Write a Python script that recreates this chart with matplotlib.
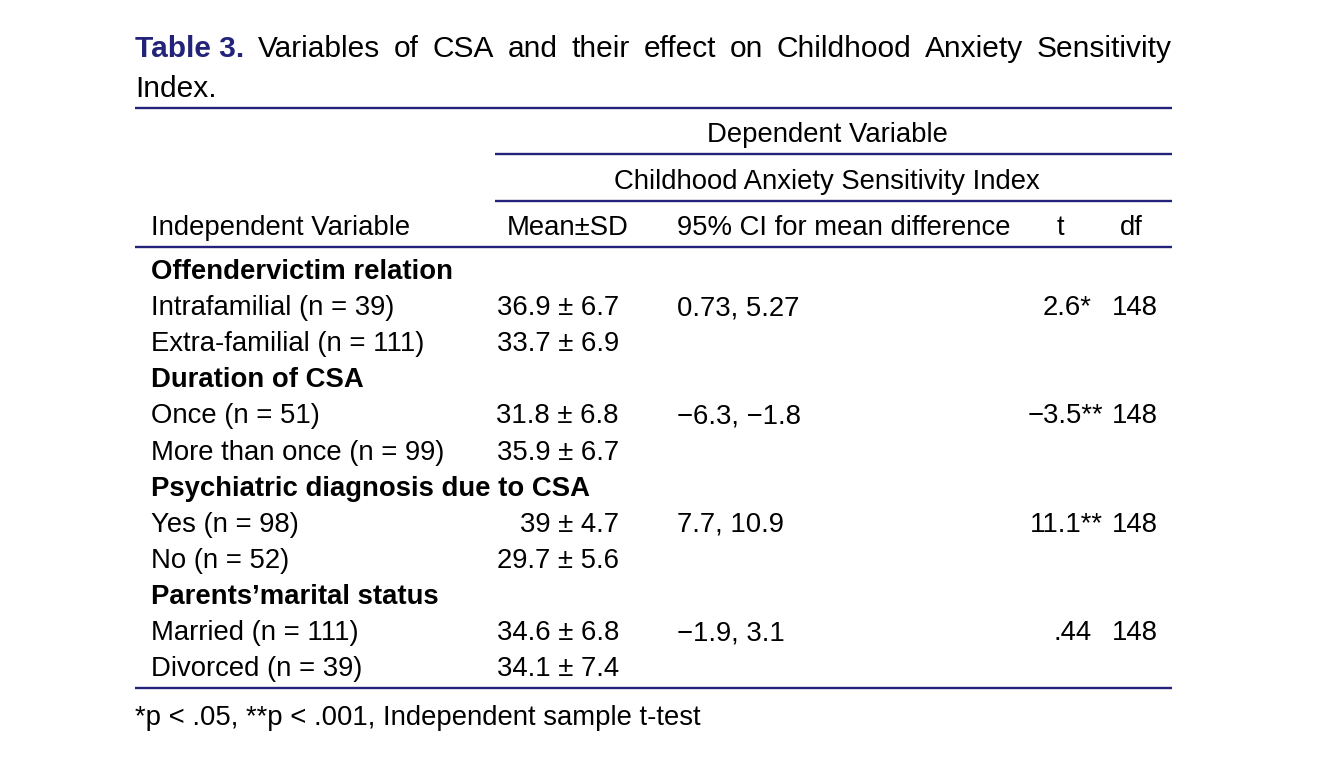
import matplotlib
matplotlib.use("Agg")
import matplotlib.pyplot as plt

plt.rcParams['font.family'] = ['Liberation Sans Narrow', 'Liberation Sans', 'DejaVu Sans']

# table content
title_bold = "Table 3."
title_rest = "Variables of CSA and their effect on Childhood Anxiety Sensitivity Index."
groups = ["Offendervictim relation", "Duration of CSA",
          "Psychiatric diagnosis due to CSA", "Parents\u2019marital status"]
levels = ["Intrafamilial (n = 39)", "Extra-familial (n = 111)",
          "Once (n = 51)", "More than once (n = 99)",
          "Yes (n = 98)", "No (n = 52)",
          "Married (n = 111)", "Divorced (n = 39)"]
means = [36.9, 33.7, 31.8, 35.9, 39, 29.7, 34.6, 34.1]
sds = [6.7, 6.9, 6.8, 6.7, 4.7, 5.6, 6.8, 7.4]
ci = ["0.73, 5.27", "\u22126.3, \u22121.8", "7.7, 10.9", "\u22121.9, 3.1"]
tvals = ["2.6*", "\u22123.5**", "11.1**", ".44"]
dfs = [148, 148, 148, 148]
footnote = "*p < .05, **p < .001, Independent sample t-test"

navy = "#23237a"
fs = 19.8
fst = 21.5
va = "baseline"

fig = plt.figure(figsize=(13.35, 7.77), dpi=100)
ax = fig.add_axes([0, 0, 1, 1])
ax.set_xlim(0, 1335)
ax.set_ylim(777, 0)
ax.axis("off")

# title, first line justified
fig.canvas.draw()
r = fig.canvas.get_renderer()
words = [(title_bold, "bold", navy)] + [(w, "normal", "black") for w in title_rest.split()[:-1]]
x0, x1 = 135, 1172
tmp = []
tot = 0
for w, wt, c in words:
    t = ax.text(0, 57, w, fontsize=fst, fontweight=wt, color=c, va=va)
    wd = t.get_window_extent(r).width
    tmp.append((t, wd))
    tot += wd
gap = (x1 - x0 - tot) / (len(tmp) - 1)
x = x0
for t, wd in tmp:
    t.set_x(x)
    x += wd + gap
ax.text(x0, 97, title_rest.split()[-1], fontsize=fst, va=va)

# rules
for y, xa in [(108, 135), (154, 495), (201, 495), (247, 135), (688, 135)]:
    ax.plot([xa, 1172], [y, y], color=navy, lw=1.7, solid_capstyle="butt")

ax.text(827, 142, "Dependent Variable", fontsize=fs, ha="center", va=va)
ax.text(827, 189, "Childhood Anxiety Sensitivity Index", fontsize=fs, ha="center", va=va)
hy = 235
ax.text(151, hy, "Independent Variable", fontsize=fs, va=va)
ax.text(507, hy, "Mean\u00b1SD", fontsize=fs, va=va)
ax.text(677, hy, "95% CI for mean difference", fontsize=fs, va=va)
ax.text(1057, hy, "t", fontsize=fs, va=va)
ax.text(1120, hy, "df", fontsize=fs, va=va)

y0, dy = 279, 36.1
row = 0
for g in range(len(groups)):
    ax.text(151, y0 + row * dy, groups[g], fontsize=fs, fontweight="bold", va=va)
    row += 1
    for k in range(2):
        i = 2 * g + k
        y = y0 + row * dy
        ax.text(151, y, levels[i], fontsize=fs, va=va)
        ax.text(619, y, f"{means[i]:g} \u00b1 {sds[i]}", fontsize=fs, va=va, ha="right")
        if k == 0:
            ax.text(677, y, ci[g], fontsize=fs, va=va)
            tx = 1103 if "**" in tvals[g] else 1092
            ax.text(tx, y, tvals[g], fontsize=fs, va=va, ha="right")
            ax.text(1158, y, str(dfs[g]), fontsize=fs, va=va, ha="right")
        row += 1

ax.text(135, 725, footnote, fontsize=fs, va=va)

fig.savefig("out.png", dpi=100)
